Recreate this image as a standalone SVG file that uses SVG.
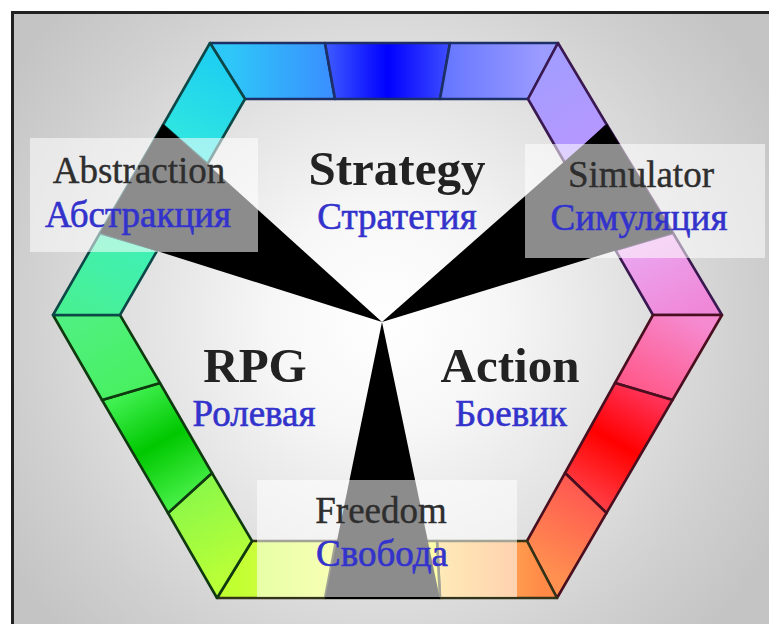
<svg xmlns="http://www.w3.org/2000/svg" width="769" height="624" viewBox="0 0 769 624">
  <defs>
    <radialGradient id="bg" gradientUnits="userSpaceOnUse" cx="385" cy="320" r="450">
      <stop offset="0" stop-color="#ffffff"/>
      <stop offset="0.25" stop-color="#f7f7f7"/>
      <stop offset="0.57" stop-color="#e0e0e0"/>
      <stop offset="0.8" stop-color="#d0d0d0"/>
      <stop offset="1" stop-color="#c4c4c4"/>
    </radialGradient>
    <!-- top side -->
    <linearGradient id="g0a" gradientUnits="userSpaceOnUse" x1="227" y1="71" x2="330" y2="71">
      <stop offset="0" stop-color="#2ec8f8"/><stop offset="1" stop-color="#3a90ff"/>
    </linearGradient>
    <linearGradient id="g0b" gradientUnits="userSpaceOnUse" x1="330" y1="71" x2="445" y2="71">
      <stop offset="0" stop-color="#3a55ff"/><stop offset="0.5" stop-color="#0000ff"/><stop offset="1" stop-color="#3a48ff"/>
    </linearGradient>
    <linearGradient id="g0c" gradientUnits="userSpaceOnUse" x1="445" y1="71" x2="543" y2="71">
      <stop offset="0" stop-color="#6677ff"/><stop offset="1" stop-color="#9c9cff"/>
    </linearGradient>
    <!-- upper right side -->
    <linearGradient id="g1a" gradientUnits="userSpaceOnUse" x1="543" y1="71" x2="586" y2="144">
      <stop offset="0" stop-color="#a49cff"/><stop offset="1" stop-color="#b698ff"/>
    </linearGradient>
    <linearGradient id="g1c" gradientUnits="userSpaceOnUse" x1="644" y1="241" x2="687" y2="315">
      <stop offset="0" stop-color="#eaa6f0"/><stop offset="1" stop-color="#f088d8"/>
    </linearGradient>
    <!-- lower right side -->
    <linearGradient id="g2a" gradientUnits="userSpaceOnUse" x1="687" y1="315" x2="644" y2="391">
      <stop offset="0" stop-color="#f58ad0"/><stop offset="1" stop-color="#ff5a8c"/>
    </linearGradient>
    <linearGradient id="g2b" gradientUnits="userSpaceOnUse" x1="644" y1="391" x2="586" y2="493">
      <stop offset="0" stop-color="#ff3358"/><stop offset="0.5" stop-color="#ff0000"/><stop offset="1" stop-color="#ff3a40"/>
    </linearGradient>
    <linearGradient id="g2c" gradientUnits="userSpaceOnUse" x1="586" y1="493" x2="542" y2="569">
      <stop offset="0" stop-color="#ff5a50"/><stop offset="1" stop-color="#ff9050"/>
    </linearGradient>
    <!-- bottom side -->
    <linearGradient id="g3a" gradientUnits="userSpaceOnUse" x1="542" y1="569" x2="440" y2="569">
      <stop offset="0" stop-color="#ff8a48"/><stop offset="1" stop-color="#ffd060"/>
    </linearGradient>
    <linearGradient id="g3c" gradientUnits="userSpaceOnUse" x1="327" y1="569" x2="234" y2="569">
      <stop offset="0" stop-color="#eaff58"/><stop offset="1" stop-color="#c0ff30"/>
    </linearGradient>
    <!-- lower left side -->
    <linearGradient id="g4a" gradientUnits="userSpaceOnUse" x1="234" y1="569" x2="190" y2="493">
      <stop offset="0" stop-color="#b8ff38"/><stop offset="1" stop-color="#8cf848"/>
    </linearGradient>
    <linearGradient id="g4b" gradientUnits="userSpaceOnUse" x1="190" y1="493" x2="131" y2="391">
      <stop offset="0" stop-color="#44ee44"/><stop offset="0.5" stop-color="#00c800"/><stop offset="1" stop-color="#40f050"/>
    </linearGradient>
    <linearGradient id="g4c" gradientUnits="userSpaceOnUse" x1="131" y1="391" x2="86" y2="315">
      <stop offset="0" stop-color="#48f060"/><stop offset="1" stop-color="#50f080"/>
    </linearGradient>
    <!-- upper left side -->
    <linearGradient id="g5a" gradientUnits="userSpaceOnUse" x1="86" y1="315" x2="129" y2="241">
      <stop offset="0" stop-color="#48f094"/><stop offset="1" stop-color="#40f0b4"/>
    </linearGradient>
    <linearGradient id="g5c" gradientUnits="userSpaceOnUse" x1="185" y1="144" x2="227" y2="71">
      <stop offset="0" stop-color="#30e6e0"/><stop offset="1" stop-color="#20d0f0"/>
    </linearGradient>
    <style>
      .seg { stroke-width: 2.6; stroke-linejoin: round; }
      .s0 { stroke: #1c2f66; }
      .s1 { stroke: #3a1850; }
      .s2 { stroke: #4a0f1f; }
      .s3 { stroke: #333318; }
      .s4 { stroke: #0f3a0f; }
      .s5 { stroke: #0d4848; }
      .wedge { fill: #000000; }
      .box { fill: #ffffff; fill-opacity: 0.55; }
      .title { font-family: "Liberation Serif", "Times New Roman", serif; font-weight: bold; font-size: 49px; fill: #222222; text-anchor: middle; }
      .name { font-family: "Liberation Serif", "Times New Roman", serif; font-size: 37px; fill: #2e2e2e; stroke: #2e2e2e; stroke-width: 0.4; text-anchor: middle; }
      .ru { font-family: "Liberation Serif", "Times New Roman", serif; font-size: 37px; fill: #3333cc; stroke: #3333cc; stroke-width: 0.6; text-anchor: middle; }
    </style>
  </defs>

  <!-- page and frame -->
  <g id="background">
    <rect x="0" y="0" width="769" height="624" fill="#ffffff"/>
    <rect x="11" y="11" width="758" height="613" fill="url(#bg)"/>
    <rect x="11" y="11" width="758" height="3" fill="#222222"/>
    <rect x="11" y="11" width="3" height="613" fill="#222222"/>
  </g>

  <!-- hexagonal colour wheel, 18 segments clockwise from the top -->
  <g id="wheel">
    <polygon class="seg s0" fill="url(#g0a)" points="210,43 325,43 335,99 245,99"/>
    <polygon class="seg s0" fill="url(#g0b)" points="325,43 450,43 440,99 335,99"/>
    <polygon class="seg s0" fill="url(#g0c)" points="450,43 558,43 528,99 440,99"/>

    <polygon class="seg s1" fill="url(#g1a)" points="558,43 607,125 565.5,164 528,99"/>
    <polygon class="seg s1" fill="#c888ff" points="607,125 673,233 615.5,250 565.5,164"/>
    <polygon class="seg s1" fill="url(#g1c)" points="673,233 722,315 653,315 615.5,250"/>

    <polygon class="seg s2" fill="url(#g2a)" points="722,315 672.5,400 615,383 653,315"/>
    <polygon class="seg s2" fill="url(#g2b)" points="672.5,400 606.5,513 565,473 615,383"/>
    <polygon class="seg s2" fill="url(#g2c)" points="606.5,513 557,598 527,541 565,473"/>

    <polygon class="seg s3" fill="url(#g3a)" points="557,598 440,598 437,541 527,541"/>
    <polygon class="seg s3" fill="#ffff40" points="440,598 325,598 336,541 437,541"/>
    <polygon class="seg s3" fill="url(#g3c)" points="325,598 217,598 252,541 336,541"/>

    <polygon class="seg s4" fill="url(#g4a)" points="217,598 168,513 212,473 252,541"/>
    <polygon class="seg s4" fill="url(#g4b)" points="168,513 102,400 160,383 212,473"/>
    <polygon class="seg s4" fill="url(#g4c)" points="102,400 53,315 120,315 160,383"/>

    <polygon class="seg s5" fill="url(#g5a)" points="53,315 100,233 157.5,250 120,315"/>
    <polygon class="seg s5" fill="#30f0e0" points="100,233 163,125 207.5,164 157.5,250"/>
    <polygon class="seg s5" fill="url(#g5c)" points="163,125 210,43 245,99 207.5,164"/>
  </g>

  <!-- three black wedges meeting in the centre -->
  <g id="wedges">
    <polygon class="wedge" points="382,322 163,124 100,233"/>
    <polygon class="wedge" points="382,322 607,124 673,233"/>
    <polygon class="wedge" points="382,322 325,599 440,599"/>
  </g>

  <g id="strategy">
    <text class="title" x="397" y="185">Strategy</text>
    <text class="ru" x="397" y="229">Стратегия</text>
  </g>

  <g id="rpg">
    <text class="title" x="255" y="382">RPG</text>
    <text class="ru" x="254" y="426">Ролевая</text>
  </g>

  <g id="action">
    <text class="title" x="510" y="382">Action</text>
    <text class="ru" x="511" y="426">Боевик</text>
  </g>

  <g id="abstraction">
    <rect class="box" x="30" y="138" width="228" height="114"/>
    <text class="name" x="139" y="183">Abstraction</text>
    <text class="ru" x="138" y="227">Абстракция</text>
  </g>

  <g id="simulator">
    <rect class="box" x="525" y="144" width="240" height="114"/>
    <text class="name" x="641" y="187">Simulator</text>
    <text class="ru" x="639" y="230">Симуляция</text>
  </g>

  <g id="freedom">
    <rect class="box" x="257" y="480" width="260" height="117"/>
    <text class="name" x="381" y="523">Freedom</text>
    <text class="ru" x="382" y="566">Свобода</text>
  </g>
</svg>
